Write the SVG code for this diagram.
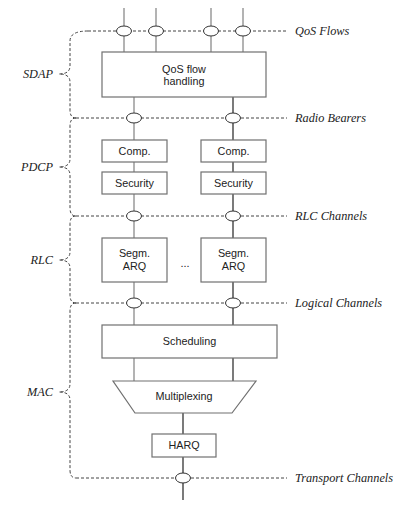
<svg xmlns="http://www.w3.org/2000/svg" width="416" height="506" viewBox="0 0 416 506">
<style>
.box{fill:#fff;stroke:#707070;stroke-width:1.2}
.bt{font-family:"Liberation Sans",Arial,sans-serif;font-size:10.8px;fill:#222;text-anchor:middle}
.lbl{font-family:"Liberation Serif","Times New Roman",serif;font-style:italic;font-size:12.3px;fill:#222}
.ll{text-anchor:end}
.dash{fill:none;stroke:#444;stroke-width:1;stroke-dasharray:3,2}
.vg{stroke:#808080;stroke-width:1.2}
.vk{stroke:#222;stroke-width:1.2}
.ell{fill:#fff;stroke:#333;stroke-width:1}
</style>
<rect width="416" height="506" fill="#fff"/>
<g id="connectors">
<line class="vg" x1="124" y1="8" x2="124" y2="52"/>
<line class="vg" x1="156" y1="8" x2="156" y2="52"/>
<line class="vg" x1="211" y1="8" x2="211" y2="52"/>
<line class="vg" x1="243" y1="8" x2="243" y2="52"/>
<line class="vg" x1="134" y1="97" x2="134" y2="140"/>
<line class="vk" x1="233" y1="97" x2="233" y2="140"/>
<line class="vg" x1="134" y1="162" x2="134" y2="172"/>
<line class="vk" x1="233" y1="162" x2="233" y2="172"/>
<line class="vg" x1="134" y1="194" x2="134" y2="238"/>
<line class="vk" x1="233" y1="194" x2="233" y2="238"/>
<line class="vg" x1="134" y1="282" x2="134" y2="325"/>
<line class="vk" x1="233" y1="282" x2="233" y2="325"/>
<line class="vg" x1="134" y1="358" x2="134" y2="381"/>
<line class="vk" x1="233" y1="358" x2="233" y2="381"/>
<line class="vk" x1="183" y1="413" x2="183" y2="434"/>
<line class="vk" x1="183" y1="457" x2="183" y2="500"/>
</g>
<g id="channels">
<line class="dash" x1="88" y1="31" x2="287" y2="31"/>
<line class="dash" x1="76" y1="118" x2="287" y2="118"/>
<line class="dash" x1="76" y1="216" x2="287" y2="216"/>
<line class="dash" x1="76" y1="303" x2="287" y2="303"/>
<line class="dash" x1="76" y1="478" x2="287" y2="478"/>
<path class="dash" d="M88 31 Q70 31 70 41 L70 66 Q70 74 59 74 Q70 74 70 82 L70 110 Q70 118 76 118"/>
<path class="dash" d="M76 118 Q70 118 70 126 L70 159 Q70 167 59 167 Q70 167 70 175 L70 208 Q70 216 76 216"/>
<path class="dash" d="M76 216 Q70 216 70 224 L70 252 Q70 260 59 260 Q70 260 70 268 L70 295 Q70 303 76 303"/>
<path class="dash" d="M76 303 Q70 303 70 311 L70 384 Q70 392 59 392 Q70 392 70 400 L70 470 Q70 478 76 478"/>
<ellipse class="ell" cx="124" cy="31" rx="7.5" ry="5"/>
<ellipse class="ell" cx="156" cy="31" rx="7.5" ry="5"/>
<ellipse class="ell" cx="211" cy="31" rx="7.5" ry="5"/>
<ellipse class="ell" cx="243" cy="31" rx="7.5" ry="5"/>
<ellipse class="ell" cx="134" cy="118" rx="7.5" ry="5"/>
<ellipse class="ell" cx="233" cy="118" rx="7.5" ry="5"/>
<ellipse class="ell" cx="134" cy="216" rx="7.5" ry="5"/>
<ellipse class="ell" cx="233" cy="216" rx="7.5" ry="5"/>
<ellipse class="ell" cx="134" cy="303" rx="7.5" ry="5"/>
<ellipse class="ell" cx="233" cy="303" rx="7.5" ry="5"/>
<ellipse class="ell" cx="183" cy="478" rx="7.5" ry="5"/>
<text class="lbl" x="295" y="35">QoS Flows</text>
<text class="lbl" x="295" y="122">Radio Bearers</text>
<text class="lbl" x="295" y="220">RLC Channels</text>
<text class="lbl" x="295" y="307">Logical Channels</text>
<text class="lbl" x="295" y="482">Transport Channels</text>
<text class="lbl ll" x="53" y="78">SDAP</text>
<text class="lbl ll" x="53" y="171">PDCP</text>
<text class="lbl ll" x="53" y="264">RLC</text>
<text class="lbl ll" x="53" y="396">MAC</text>
</g>
<g id="qos"><rect class="box" x="102" y="52" width="164" height="45"/><text class="bt" x="184" y="73">QoS flow</text><text class="bt" x="184" y="85">handling</text></g>
<g id="comp1"><rect class="box" x="102" y="140" width="65" height="22"/><text class="bt" x="134.5" y="155">Comp.</text></g>
<g id="comp2"><rect class="box" x="201" y="140" width="65" height="22"/><text class="bt" x="233.5" y="155">Comp.</text></g>
<g id="sec1"><rect class="box" x="102" y="172" width="65" height="22"/><text class="bt" x="134.5" y="187">Security</text></g>
<g id="sec2"><rect class="box" x="201" y="172" width="65" height="22"/><text class="bt" x="233.5" y="187">Security</text></g>
<g id="segm1"><rect class="box" x="102" y="238" width="65" height="44"/><text class="bt" x="134.5" y="257">Segm.</text><text class="bt" x="134.5" y="270">ARQ</text></g>
<text class="bt" x="185" y="267">...</text>
<g id="segm2"><rect class="box" x="201" y="238" width="65" height="44"/><text class="bt" x="233.5" y="257">Segm.</text><text class="bt" x="233.5" y="270">ARQ</text></g>
<g id="sched"><rect class="box" x="102" y="325" width="175" height="33"/><text class="bt" x="189.5" y="345">Scheduling</text></g>
<g id="mux"><path class="box" d="M113 381 L256 381 L232 413 L135 413 Z"/><text class="bt" x="184" y="400">Multiplexing</text></g>
<g id="harq"><rect class="box" x="152" y="434" width="64" height="23"/><text class="bt" x="184" y="449">HARQ</text></g>
</svg>
